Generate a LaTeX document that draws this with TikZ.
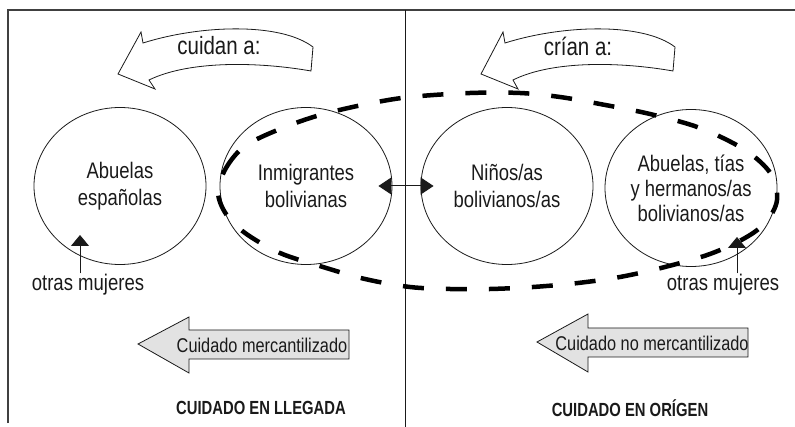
\documentclass[tikz,border=0pt]{standalone}
\usepackage{fontspec}
\setmainfont{Liberation Sans}[FakeStretch=0.82,BoldFeatures={FakeStretch=0.78}]
\usetikzlibrary{shapes.geometric,arrows.meta}
\definecolor{ink}{HTML}{1A1A1A}
\definecolor{arrowgrey}{HTML}{E2E2E2}
\tikzset{
  circ/.style={ellipse,draw=ink,line width=0.8pt,minimum width=172pt,minimum height=157pt,inner sep=0pt,align=center,text=ink,font=\fontsize{22.5}{27}\selectfont},
  grp/.style={draw=black,line width=4.5pt,dash pattern=on 21pt off 22pt},
  lbl/.style={text=ink,inner sep=1pt,font=\fontsize{22.6}{26}\selectfont},
  bigarrowtxt/.style={text=ink,inner sep=0pt,font=\fontsize{19.9}{22}\selectfont},
  ttl/.style={text=ink,inner sep=0pt,font=\fontsize{19}{21}\selectfont\bfseries},
  curvetxt/.style={text=ink,inner sep=0pt,font=\fontsize{25}{28}\selectfont},
  bandarrow/.style={draw=ink,line width=0.8pt,fill=white,line join=miter},
  greyarrow/.style={draw=ink,line width=0.8pt,fill=arrowgrey},
  small/.style={-{Triangle[length=11pt,width=18pt]},line width=0.9pt,draw=ink},
  dbl/.style={{Triangle[length=13pt,width=17pt]}-{Triangle[length=13pt,width=17pt]},line width=1pt,draw=ink},
}
\begin{document}
\begin{tikzpicture}[x=1pt,y=-1pt]
\useasboundingbox (0,0) rectangle (795,427);
% frame
\draw[line width=1.6pt,black!75] (8,423) -- (8,10) -- (795,10);
\draw[line width=0.8pt,ink] (405,10) -- (405,427);

% curved band arrows
\begin{scope}[shift={(118,74)}]
\draw[bandarrow] (0,0) -- (23,-42) -- (25,-31)
  .. controls (82,-49) and (162,-52) .. (195,-27)
  -- (193,-3)
  .. controls (142,-12) and (72,-14) .. (31,6)
  -- (37,15) -- cycle;
\node[curvetxt] (cuidan) at (101,-28) {cuidan a:};
\end{scope}
\begin{scope}[shift={(481,74)}]
\draw[bandarrow] (0,0) -- (22,-42) -- (24,-31)
  .. controls (81,-49) and (161,-52) .. (194,-27)
  -- (192,-3)
  .. controls (141,-12) and (72,-14) .. (32,6)
  -- (37,15) -- cycle;
\node[curvetxt] (crian) at (97,-28) {crían a:};
\end{scope}

% circles
\node[circ] (abesp) at (120,186) {Abuelas\\españolas};
\node[circ] (inm) at (306,186) {Inmigrantes\\bolivianas};
\node[circ] (nin) at (507,186) {Niños/as\\bolivianos/as};
\node[circ,font=\fontsize{22.5}{25}\selectfont] (abtias) at (691,188) {Abuelas, tías\\y hermanos/as\\bolivianos/as};

% dashed group outline
\draw[grp] plot[smooth cycle,tension=0.55] coordinates {
  (218,192) (226,168) (245,146) (280,129) (320,115) (367,104) (410,97)
  (470,93) (520,93) (560,97) (600,104) (650,114) (700,128) (745,150)
  (771,174) (777,200) (766,222) (745,238) (710,254) (665,267) (620,277)
  (578,283) (533,287) (490,289) (450,289) (410,287) (365,279) (323,267)
  (280,253) (245,233) (226,214)};

% double arrow
\draw[dbl] ([xshift=-14pt]inm.east) -- ([xshift=13pt]nin.west);

% otras mujeres
\node[lbl] (om1) at (88,285) {otras mujeres};
\node[lbl] (om2) at (723,285) {otras mujeres};
\coordinate (tipL) at (80,235);
\coordinate (tipR) at (737,237);
\draw[small] (om1.north -| tipL) -- (tipL);
\draw[small] (om2.north -| tipR) -- (tipR);

% grey arrows
\draw[greyarrow] (138,344) -- (189,317) -- (189,330) -- (349,330) -- (349,359) -- (189,359) -- (189,373) -- cycle;
\node[bigarrowtxt] (merc) at (262,345) {Cuidado mercantilizado};
\draw[greyarrow] (537,342) -- (588,314) -- (588,328) -- (748,328) -- (748,357) -- (588,357) -- (588,372) -- cycle;
\node[bigarrowtxt] (nomerc) at (652,343) {Cuidado no mercantilizado};

% titles
\node[ttl] (llegada) at (261,408) {CUIDADO EN LLEGADA};
\node[ttl] (origen) at (630,408) {CUIDADO EN ORÍGEN};
\end{tikzpicture}
\end{document}
